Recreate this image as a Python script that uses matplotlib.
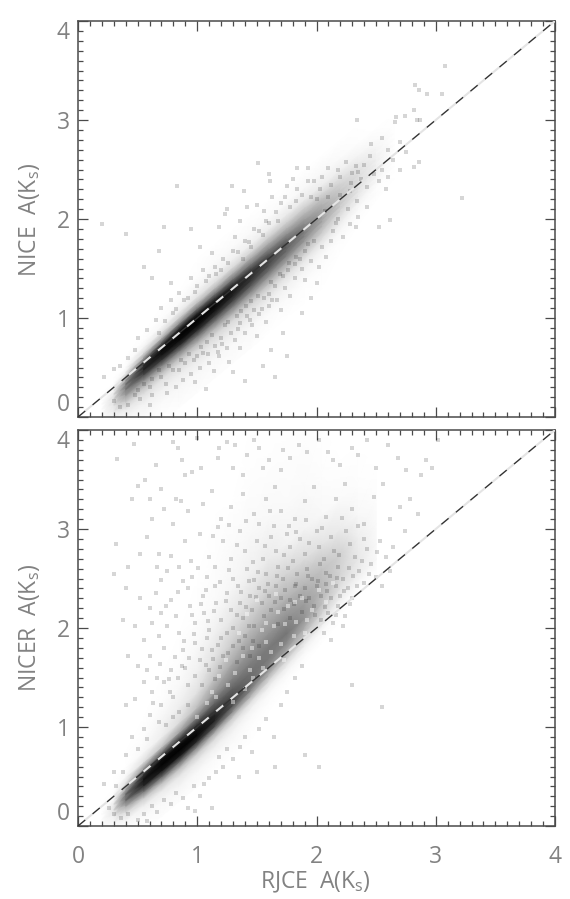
import numpy as np
import matplotlib
matplotlib.use("Agg")
import matplotlib.pyplot as plt
from matplotlib.ticker import MultipleLocator

plt.rcParams['font.family'] = ['Open Sans', 'DejaVu Sans']
plt.rcParams['mathtext.default'] = 'regular'
plt.rcParams['lines.scale_dashes'] = False

# ------------------- density (0 white .. 100 black) -------------------
# rows = RJCE value, columns = offset from the diagonal (y - x)
top_x = [0.20, 0.30, 0.40, 0.55, 0.70, 0.85, 1.00, 1.15, 1.30, 1.45, 1.60, 1.75, 1.90, 2.05, 2.20, 2.35, 2.50, 2.65]
top_d = [-0.75, -0.55, -0.42, -0.32, -0.25, -0.18, -0.12, -0.07, -0.03, 0.01, 0.05, 0.10, 0.16, 0.22, 0.30, 0.42, 0.60]
top_dens = [
    [0, 0, 0, 0, 0, 0, 0, 0, 0, 0, 0, 0, 0, 0, 0, 0, 0],
    [0, 0, 1, 3, 6, 10, 12, 10, 5, 2, 0, 0, 0, 0, 0, 0, 0],
    [0, 0, 3, 8, 20, 38, 50, 50, 38, 18, 6, 1, 0, 0, 0, 0, 0],
    [0, 2, 5, 12, 24, 45, 72, 85, 82, 62, 36, 14, 4, 1, 0, 0, 0],
    [0, 2, 6, 12, 26, 50, 80, 92, 95, 88, 62, 28, 10, 3, 1, 0, 0],
    [1, 3, 7, 14, 28, 54, 84, 96, 98, 96, 80, 44, 18, 7, 2, 0, 0],
    [1, 3, 8, 15, 30, 56, 84, 96, 99, 97, 84, 52, 24, 10, 4, 1, 0],
    [1, 3, 8, 15, 30, 54, 80, 92, 96, 94, 80, 52, 26, 12, 5, 2, 0],
    [1, 3, 8, 15, 30, 52, 74, 86, 90, 88, 76, 52, 30, 14, 6, 2, 0],
    [1, 3, 8, 15, 28, 48, 66, 78, 82, 80, 70, 50, 32, 16, 6, 2, 0],
    [0, 2, 7, 14, 26, 42, 58, 68, 72, 72, 62, 48, 32, 18, 7, 2, 0],
    [0, 2, 5, 12, 22, 36, 50, 58, 62, 62, 56, 44, 30, 18, 8, 2, 0],
    [0, 1, 4, 9, 18, 28, 40, 48, 50, 50, 46, 38, 28, 18, 8, 3, 0],
    [0, 1, 2, 6, 12, 20, 28, 34, 36, 36, 34, 30, 24, 15, 7, 3, 0],
    [0, 0, 1, 3, 6, 11, 16, 20, 22, 23, 23, 21, 17, 12, 6, 2, 0],
    [0, 0, 0, 1, 2, 5, 8, 10, 12, 13, 13, 13, 11, 8, 4, 1, 0],
    [0, 0, 0, 0, 1, 1, 3, 4, 5, 6, 6, 6, 5, 4, 2, 0, 0],
    [0, 0, 0, 0, 0, 0, 0, 0, 0, 0, 0, 0, 0, 0, 0, 0, 0],
]

low_x = [0.20, 0.30, 0.40, 0.55, 0.70, 0.85, 1.00, 1.15, 1.30, 1.45, 1.60, 1.75, 1.90, 2.05, 2.20, 2.35, 2.50]
low_d = [-0.60, -0.45, -0.35, -0.27, -0.20, -0.14, -0.08, -0.03, 0.03, 0.10, 0.20, 0.35, 0.55, 0.80, 1.10, 1.50, 2.00, 2.60]
low_dens = [
    [0, 0, 0, 0, 0, 0, 0, 0, 0, 0, 0, 0, 0, 0, 0, 0, 0, 0],
    [0, 0, 0, 2, 6, 10, 8, 3, 1, 0, 0, 0, 0, 0, 0, 0, 0, 0],
    [0, 0, 3, 12, 32, 55, 55, 35, 12, 3, 0, 0, 0, 0, 0, 0, 0, 0],
    [0, 2, 6, 20, 55, 85, 92, 80, 42, 12, 3, 1, 0, 0, 0, 0, 0, 0],
    [1, 3, 8, 25, 62, 92, 98, 95, 62, 22, 7, 4, 1, 0, 0, 0, 0, 0],
    [1, 4, 9, 25, 60, 92, 99, 96, 74, 36, 14, 7, 3, 1, 0, 0, 0, 0],
    [1, 3, 8, 20, 50, 85, 97, 94, 78, 50, 26, 12, 6, 3, 1, 0, 0, 0],
    [0, 2, 6, 14, 35, 68, 86, 86, 74, 60, 40, 24, 12, 6, 2, 1, 0, 0],
    [0, 2, 4, 9, 22, 46, 66, 72, 68, 60, 48, 34, 20, 10, 4, 2, 0, 0],
    [0, 1, 2, 5, 12, 28, 46, 56, 58, 56, 50, 40, 26, 14, 6, 3, 1, 0],
    [0, 0, 1, 2, 6, 14, 28, 40, 48, 52, 52, 42, 30, 17, 8, 3, 1, 0],
    [0, 0, 0, 1, 3, 7, 15, 26, 36, 46, 54, 44, 30, 17, 5, 2, 1, 0],
    [0, 0, 0, 0, 1, 3, 6, 12, 22, 32, 42, 38, 28, 14, 5, 2, 1, 0],
    [0, 0, 0, 0, 0, 1, 2, 5, 10, 16, 24, 28, 24, 11, 3, 1, 0, 0],
    [0, 0, 0, 0, 0, 0, 0, 1, 3, 6, 11, 17, 18, 8, 2, 0, 0, 0],
    [0, 0, 0, 0, 0, 0, 0, 0, 1, 3, 7, 9, 7, 3, 1, 0, 0, 0],
    [0, 0, 0, 0, 0, 0, 0, 0, 0, 1, 3, 3, 2, 1, 0, 0, 0, 0],
]

# ------------------- lone pixels -------------------
top_specks = [
    (3.08, 3.55), (2.83, 3.35), (2.86, 3.30), (2.93, 3.26), (3.05, 3.26), (2.34, 3.00), (2.67, 3.03), (2.66, 2.98),
    (2.74, 3.04), (2.82, 3.10), (2.84, 3.00), (2.87, 3.00), (3.22, 2.21), (2.62, 1.99), (2.55, 2.82), (2.46, 2.76),
    (2.60, 2.70), (2.70, 2.78), (2.75, 2.68), (2.86, 2.58), (2.82, 2.53), (2.64, 2.60), (2.45, 2.64), (2.40, 2.55),
    (2.33, 2.54), (2.30, 2.46), (2.25, 2.58), (2.18, 2.50), (2.10, 2.52), (2.05, 2.42), (1.93, 2.52), (1.84, 2.52),
    (1.80, 2.40), (1.75, 2.33), (1.98, 2.38), (2.12, 2.34), (2.20, 2.42), (2.28, 2.28), (2.37, 2.40), (2.42, 2.32),
    (2.48, 2.45), (2.52, 2.38), (2.55, 2.50), (2.58, 2.30), (2.34, 2.18), (2.26, 2.10), (2.42, 2.12), (2.18, 2.00),
    (2.28, 1.95), (2.14, 1.88), (2.35, 2.02), (2.52, 1.92), (2.05, 1.72), (2.12, 1.78), (2.22, 1.82), (2.08, 1.62),
    (1.95, 1.58), (2.02, 1.52), (1.88, 1.50), (1.82, 1.40), (1.90, 1.38), (1.74, 1.30), (1.78, 1.22), (1.67, 1.18),
    (1.60, 1.12), (1.70, 1.08), (1.52, 1.04), (1.58, 0.96), (1.46, 0.93), (1.40, 0.85), (1.50, 0.82), (1.32, 0.78),
    (1.36, 0.70), (1.25, 0.70), (1.18, 0.62), (1.27, 0.56), (1.10, 0.55), (1.14, 0.46), (1.02, 0.50), (0.95, 0.43),
    (0.98, 0.35), (0.88, 0.37), (0.82, 0.30), (1.07, 0.28), (0.75, 0.24), (0.62, 0.22), (0.52, 0.18), (0.60, 0.12),
    (0.42, 0.12), (0.35, 0.10), (0.30, 0.16), (1.30, 0.45), (1.62, 0.68), (1.72, 0.85), (1.88, 1.05), (1.95, 1.20),
    (2.00, 1.35), (1.83, 1.62), (1.65, 0.40), (1.40, 0.36), (1.55, 0.52), (1.75, 0.62), (0.83, 2.33), (1.29, 2.33),
    (1.39, 2.28), (1.51, 2.57), (1.60, 2.45), (1.61, 2.38), (1.25, 2.10), (1.23, 2.05), (1.42, 2.12), (1.50, 2.14),
    (1.56, 2.08), (1.63, 2.22), (1.70, 2.16), (1.36, 1.98), (1.18, 1.92), (1.48, 1.90), (1.58, 1.98), (1.32, 1.82),
    (1.40, 1.78), (1.02, 1.72), (1.12, 1.66), (0.68, 1.68), (0.40, 1.85), (0.20, 1.95), (0.72, 1.92), (0.95, 1.90),
    (0.55, 1.52), (0.62, 1.40), (0.78, 1.35), (0.95, 1.40), (1.05, 1.48), (1.15, 1.52), (1.22, 1.60), (1.30, 1.68),
    (1.38, 1.60), (0.85, 1.25), (0.92, 1.20), (0.78, 1.18), (0.70, 1.10), (0.65, 0.98), (0.80, 1.05), (0.58, 0.88),
    (0.50, 0.80), (0.68, 0.85), (0.48, 0.68), (0.42, 0.60), (0.35, 0.52), (0.30, 0.48), (0.22, 0.40), (1.00, 1.32),
    (1.10, 1.42), (1.20, 1.48), (1.45, 1.72), (1.55, 1.84), (1.68, 1.98), (1.78, 2.12), (1.88, 2.24), (2.00, 2.20),
    (2.60, 2.42), (2.70, 2.50), (1.05, 0.65), (1.15, 0.72), (1.28, 0.85), (1.36, 0.95), (1.48, 1.08), (1.56, 1.20),
    (1.65, 1.32), (1.72, 1.42), (1.82, 1.55), (1.90, 1.68), (1.98, 1.78), (0.90, 0.55), (0.80, 0.47), (0.70, 0.40),
    (0.60, 0.30), (0.48, 0.22), (1.00, 0.62), (1.20, 0.80), (1.42, 1.02), (1.60, 1.24), (1.76, 1.48), (2.16, 1.96),
    (0.93, 0.64), (0.86, 0.58), (1.03, 0.71), (1.12, 0.83), (1.23, 0.93), (1.08, 0.76), (0.97, 0.58), (1.17, 0.66),
    (1.33, 1.02), (1.41, 1.12), (1.51, 1.22), (1.62, 1.36), (1.69, 1.44), (1.77, 1.56), (1.86, 1.60), (1.93, 1.75),
    (0.76, 0.52), (0.68, 0.47), (0.62, 0.38), (0.55, 0.33), (0.50, 0.27), (0.74, 0.33), (0.85, 0.47), (1.26, 0.96),
    (1.37, 1.07), (1.45, 1.17), (1.54, 1.09), (1.63, 1.18), (1.44, 0.98), (1.34, 0.89), (1.21, 0.74), (1.09, 0.64),
    (0.73, 0.97), (0.82, 1.09), (0.89, 1.18), (0.98, 1.26), (1.07, 1.37), (1.16, 1.44), (1.26, 1.56), (1.34, 1.67),
    (1.43, 1.77), (1.52, 1.88), (1.60, 1.96), (1.66, 2.07), (1.74, 2.22), (1.84, 2.30), (1.93, 2.38), (2.03, 2.30),
    (2.10, 2.22), (2.20, 2.24), (2.29, 2.36), (2.35, 2.47), (1.83, 2.18), (1.95, 2.22), (2.07, 2.08), (2.33, 1.92),
]

low_specks = [
    (0.47, 3.86), (0.33, 3.71), (0.80, 3.88), (0.84, 3.82), (1.00, 3.92), (0.65, 3.65), (0.87, 3.70), (0.90, 3.55),
    (0.96, 3.58), (1.03, 3.62), (1.18, 3.82), (1.25, 3.88), (1.32, 3.85), (1.17, 3.72), (1.30, 3.62), (1.42, 3.75),
    (1.38, 3.55), (1.48, 3.90), (1.52, 3.82), (1.60, 3.70), (1.72, 3.80), (1.78, 3.72), (1.70, 3.60), (1.55, 3.62),
    (1.85, 3.85), (1.92, 3.78), (2.02, 3.90), (2.10, 3.78), (2.14, 3.70), (2.20, 3.65), (2.30, 3.82), (2.35, 3.75),
    (2.42, 3.90), (2.50, 3.62), (2.60, 3.85), (2.68, 3.72), (2.75, 3.60), (2.88, 3.55), (2.92, 3.70), (3.02, 3.90),
    (2.97, 3.62), (0.50, 3.43), (0.56, 3.50), (0.60, 3.30), (0.70, 3.40), (0.62, 3.10), (0.45, 3.30), (0.72, 3.20),
    (0.82, 3.30), (0.92, 3.18), (0.80, 3.05), (0.86, 3.28), (1.05, 3.25), (1.12, 3.38), (1.20, 3.10), (1.28, 3.22),
    (1.38, 3.35), (1.48, 3.15), (1.52, 3.05), (1.58, 3.30), (1.65, 3.42), (1.70, 3.18), (1.82, 3.10), (1.90, 3.28),
    (1.98, 3.42), (2.08, 3.12), (2.16, 3.30), (2.24, 3.45), (2.30, 3.20), (2.40, 3.05), (2.48, 3.32), (2.56, 3.45),
    (2.62, 3.10), (2.70, 3.22), (2.78, 3.30), (2.85, 3.15), (2.74, 2.98), (0.32, 2.85), (0.42, 2.62), (0.30, 2.55),
    (0.52, 2.75), (0.58, 2.92), (0.68, 2.75), (0.75, 2.58), (0.85, 2.62), (0.70, 2.48), (0.90, 2.88), (0.95, 2.68),
    (1.02, 2.95), (1.10, 2.72), (1.08, 2.52), (1.15, 2.62), (1.22, 2.88), (1.28, 2.70), (1.30, 2.50), (1.36, 2.98),
    (1.40, 2.78), (1.42, 2.60), (1.48, 2.48), (1.50, 2.88), (1.55, 2.70), (1.58, 2.55), (1.62, 2.92), (1.66, 2.78),
    (1.68, 2.62), (1.72, 2.50), (1.75, 2.95), (1.78, 2.82), (1.80, 2.68), (1.84, 2.55), (1.86, 2.90), (1.90, 2.75),
    (1.92, 2.60), (1.96, 2.50), (2.00, 2.98), (2.02, 2.82), (2.06, 2.70), (2.08, 2.56), (2.12, 2.92), (2.15, 2.78),
    (2.18, 2.62), (2.22, 2.50), (2.25, 2.98), (2.28, 2.85), (2.32, 2.72), (2.36, 2.58), (2.40, 2.90), (2.42, 2.80),
    (2.46, 2.65), (2.50, 2.52), (2.53, 2.88), (2.58, 2.72), (2.64, 2.82), (2.40, 2.45), (2.55, 2.42), (2.62, 2.58),
    (0.40, 2.40), (0.52, 2.30), (0.60, 2.20), (0.38, 2.08), (0.48, 2.02), (0.55, 1.88), (0.65, 2.35), (0.70, 2.15),
    (0.75, 2.02), (0.68, 1.92), (0.42, 1.72), (0.50, 1.62), (0.60, 1.72), (0.72, 1.80), (0.78, 2.28), (0.82, 2.12),
    (0.85, 1.95), (0.88, 1.78), (0.92, 2.40), (0.94, 2.22), (0.98, 2.05), (0.98, 1.85), (1.02, 1.68), (1.05, 2.32),
    (1.06, 2.15), (1.10, 1.98), (1.12, 1.78), (1.15, 2.42), (1.16, 2.25), (1.20, 2.08), (1.20, 1.90), (1.22, 1.72),
    (1.25, 2.35), (1.28, 2.18), (1.30, 2.00), (1.30, 1.82), (1.34, 2.42), (1.36, 2.25), (1.38, 2.10), (1.40, 1.92),
    (1.44, 2.32), (1.46, 2.18), (1.48, 2.02), (1.52, 2.40), (1.54, 2.25), (1.56, 2.12), (1.60, 2.32), (1.62, 2.18),
    (1.66, 2.42), (1.70, 2.30), (1.74, 2.38), (1.78, 2.28), (1.82, 2.42), (1.86, 2.32), (1.90, 2.40), (1.94, 2.30),
    (2.00, 2.42), (2.04, 2.32), (2.08, 2.44), (2.12, 2.30), (2.16, 2.42), (2.20, 2.32), (2.26, 2.40), (2.30, 2.30),
    (2.34, 2.42), (2.10, 2.15), (2.18, 2.22), (2.24, 2.12), (2.28, 2.24), (2.14, 2.05), (2.04, 2.08), (2.22, 2.02),
    (0.55, 1.45), (0.62, 1.35), (0.48, 1.28), (0.40, 1.22), (0.72, 1.45), (0.78, 1.58), (0.84, 1.50), (0.70, 1.22),
    (0.80, 1.30), (0.90, 1.60), (0.92, 1.42), (0.98, 1.52), (0.60, 1.12), (0.55, 0.98), (0.45, 0.90), (0.68, 1.05),
    (0.40, 0.72), (0.30, 0.55), (0.38, 0.55), (0.22, 0.42), (0.50, 0.78), (0.58, 0.88), (0.32, 0.40), (0.74, 1.02),
    (1.04, 1.42), (1.10, 1.58), (1.15, 1.48), (0.85, 1.15), (0.92, 1.22), (0.80, 1.10), (0.26, 0.18), (0.30, 0.12),
    (0.36, 0.08), (0.42, 0.12), (0.50, 0.06), (0.55, 0.12), (0.58, 0.05), (0.62, 0.20), (0.66, 0.14), (0.72, 0.26),
    (0.78, 0.22), (0.82, 0.33), (0.88, 0.28), (0.92, 0.18), (0.97, 0.40), (1.02, 0.30), (1.06, 0.42), (1.10, 0.48),
    (1.16, 0.55), (1.22, 0.60), (1.18, 0.70), (1.25, 0.78), (1.30, 0.68), (1.36, 0.80), (1.40, 0.90), (1.46, 0.75),
    (1.52, 0.98), (1.58, 1.08), (1.64, 0.90), (1.70, 1.22), (1.75, 1.35), (1.82, 1.50), (1.88, 1.62), (2.02, 0.60),
    (2.30, 1.42), (2.55, 1.20), (1.50, 0.55), (1.35, 0.50), (0.98, 0.15), (1.12, 0.18), (1.65, 0.60), (1.90, 0.72),
    (1.68, 2.04), (1.78, 2.10), (1.88, 2.16), (1.98, 2.22), (2.06, 1.95), (2.12, 1.88), (1.52, 1.82), (1.44, 1.72),
    (1.13, 2.93), (1.27, 3.04), (1.33, 2.84), (1.47, 2.67), (1.57, 2.83), (1.64, 3.03), (1.73, 2.74), (1.83, 2.97),
    (1.94, 2.86), (2.03, 2.65), (2.11, 2.53), (2.19, 2.74), (2.27, 2.61), (2.38, 2.68), (2.44, 2.55), (2.51, 2.77),
    (1.07, 2.38), (1.19, 2.46), (1.27, 2.59), (1.37, 2.36), (1.43, 2.47), (1.51, 2.57), (1.59, 2.44), (1.67, 2.53),
    (1.76, 2.61), (1.83, 2.44), (1.93, 2.53), (2.01, 2.47), (2.09, 2.37), (2.17, 2.51), (2.23, 2.37), (2.31, 2.53),
    (0.96, 2.13), (1.03, 2.24), (1.09, 2.07), (1.14, 2.17), (1.24, 2.27), (1.33, 2.13), (1.41, 2.21), (1.49, 2.31),
    (1.57, 2.37), (1.65, 2.26), (1.73, 2.19), (1.81, 2.24), (1.91, 2.27), (1.99, 2.13), (2.07, 2.21), (2.16, 2.13),
    (0.89, 1.87), (0.97, 1.94), (1.04, 1.79), (1.08, 1.90), (1.17, 1.83), (1.25, 1.95), (1.35, 1.87), (1.43, 2.02),
    (1.07, 1.63), (1.13, 1.69), (1.19, 1.61), (1.26, 1.75), (1.33, 1.66), (1.38, 1.80), (1.47, 1.87), (0.93, 1.70),
    (1.17, 3.02), (1.41, 3.08), (1.61, 3.18), (1.77, 3.03), (1.91, 3.09), (2.05, 3.01), (2.21, 3.11), (2.35, 3.03),
    (0.66, 2.62), (0.78, 2.73), (0.88, 2.47), (0.96, 2.52), (1.01, 2.61), (0.84, 2.36), (0.74, 2.22), (0.62, 2.05),
    (0.69, 1.64), (0.81, 1.71), (0.76, 1.48), (0.66, 1.50), (0.87, 1.62), (0.58, 1.58), (0.63, 1.24), (0.77, 1.35),
]

# white holes in the grey cloud
low_holes = [
    (1.12, 1.35), (1.18, 1.52), (1.26, 1.42), (1.32, 1.55), (1.38, 1.72), (1.44, 1.58), (1.52, 1.70), (1.58, 1.86),
    (1.64, 2.02), (1.70, 1.84), (1.76, 2.22), (1.83, 2.06), (1.88, 2.30), (1.96, 2.18), (2.02, 2.38), (1.24, 1.68),
    (1.35, 1.95), (1.42, 2.14), (1.50, 2.28), (1.58, 2.05), (1.66, 2.34), (1.74, 2.04), (1.82, 2.26), (1.92, 2.08),
    (1.30, 1.25), (1.40, 1.38), (1.47, 1.49), (1.55, 1.60), (1.62, 1.76), (1.73, 1.68), (1.81, 1.92), (1.90, 1.95),
    (1.00, 1.10), (1.08, 1.24), (1.16, 1.30), (2.08, 2.26), (2.14, 2.45), (1.46, 1.80), (1.54, 1.98), (1.68, 2.16),
]

diagonal = [0, 4]
ticks_major = [0, 1, 2, 3, 4]

W, H = 570, 899
GRIS_TXT = '#828282'
GRIS_EJE = '#4a4a4a'


def panel(box, xs, ds, dens, specks, holes=None):
    ax = plt.axes([box[0] / W, 1 - box[3] / H, (box[2] - box[0]) / W, (box[3] - box[1]) / H])

    # sheared grid so the cells follow the diagonal
    X, D = np.meshgrid(xs, ds, indexing='ij')
    ax.pcolormesh(X, X + D, np.array(dens), shading='gouraud', cmap='gray_r', vmin=0, vmax=100, zorder=1)

    sx, sy = zip(*specks)
    ax.scatter(sx, sy, s=6.5, marker='s', color='black', alpha=0.16, linewidths=0, zorder=2)
    if holes:
        hx, hy = zip(*holes)
        ax.scatter(hx, hy, s=7, marker='s', color='white', alpha=0.45, linewidths=0, zorder=2)

    # dashed diagonal, dark dashes and pale dashes take turns
    ax.plot(diagonal, diagonal, color='#e4e4e4', lw=1.5, ls=(6.8, (6.8, 6.8)), zorder=3)
    ax.plot(diagonal, diagonal, color='#333333', lw=1.0, ls=(0, (6.8, 6.8)), zorder=4)

    ax.set_xlim(0, 4)
    ax.set_ylim(0, 4)
    ax.xaxis.set_major_locator(MultipleLocator(1))
    ax.xaxis.set_minor_locator(MultipleLocator(0.1))
    ax.yaxis.set_major_locator(MultipleLocator(1))
    ax.yaxis.set_minor_locator(MultipleLocator(0.1))
    ax.tick_params(which='major', direction='in', top=True, right=True, length=7.5, width=0.9, color=GRIS_EJE)
    ax.tick_params(which='minor', direction='in', top=True, right=True, length=3.8, width=0.9, color=GRIS_EJE)
    ax.tick_params(axis='both', labelsize=16.5, labelcolor=GRIS_TXT)
    ax.tick_params(axis='y', pad=6)
    ax.tick_params(axis='x', pad=14)
    for sp in ax.spines.values():
        sp.set_color(GRIS_EJE)
        sp.set_linewidth(1.1)

    ax.set_yticks(ticks_major)
    ax.set_yticklabels([str(t) for t in ticks_major])
    labs = ax.get_yticklabels()
    labs[0].set_va('bottom')
    labs[-1].set_va('top')
    return ax


fig = plt.figure(figsize=(W / 100, H / 100), dpi=100)

ax1 = panel((78, 21, 555, 417), top_x, top_d, top_dens, top_specks)
ax1.tick_params(axis='x', labelbottom=False)

ax2 = panel((78, 430, 555, 826), low_x, low_d, low_dens, low_specks, low_holes)
ax2.set_xticks(ticks_major)

fig.text(30 / W, 1 - 220 / H, r'NICE  A(K$_{s}$)', rotation=90, ha='center', va='center', fontsize=16.5, color=GRIS_TXT)
fig.text(30 / W, 1 - 628 / H, r'NICER  A(K$_{s}$)', rotation=90, ha='center', va='center', fontsize=16.5, color=GRIS_TXT)
fig.text(315 / W, 1 - 882 / H, r'RJCE  A(K$_{s}$)', ha='center', va='center', fontsize=16.5, color=GRIS_TXT)

fig.savefig('out.png', dpi=100)
